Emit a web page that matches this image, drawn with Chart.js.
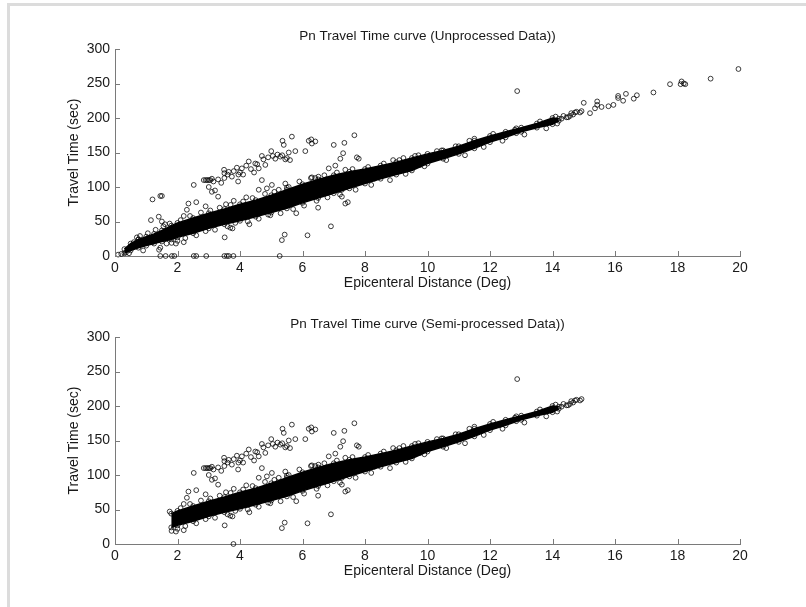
<!DOCTYPE html>
<html lang="en">
<head>
<meta charset="UTF-8">
<title>Pn Travel Time curve</title>
<script src="https://cdn.jsdelivr.net/npm/chart.js"></script>
<style>
    body { margin: 0; background: #fff; width: 806px; height: 607px; overflow: hidden; position: relative; }
    .moldura { position: absolute; left: 7px; top: 3px; width: 830px; height: 640px;
               border-top: 3px solid #dcdcdc; border-left: 3px solid #dcdcdc; }
    canvas { position: absolute; left: 0; }
    #canva1 { top: 0; }
    #canva2 { top: 288px; }
</style>
</head>
<body>
<div class="moldura"></div>
<canvas id="canva1" width="806" height="296"></canvas>
<canvas id="canva2" width="806" height="296"></canvas>

<script>
    // axis ticks
    var xTicks = [0, 2, 4, 6, 8, 10, 12, 14, 16, 18, 20];
    var yTicks = [0, 50, 100, 150, 200, 250, 300];

    // dense part of the Pn picks: upper / lower edge of the black band
    var bandX     = [0.3, 0.5, 0.75, 1.0, 1.25, 1.5, 1.8, 2.0, 2.5, 3.0, 3.5, 4.0, 4.5, 5.0, 5.5, 6.0, 6.5, 7.0, 7.5, 8.0, 8.5, 9.0, 9.5, 10.0, 10.5, 11.0, 11.5, 12.0, 12.5, 13.0, 13.5, 14.0, 14.2];
    var bandUpper = [10, 18, 24, 28, 32, 37, 44, 48, 55, 62, 68, 75, 81, 88, 96, 104, 111, 117, 122, 126, 131, 136, 142, 148, 153, 159, 167, 174, 180, 186, 192, 200, 199];
    var bandLower = [4, 8, 12, 15, 18, 21, 24, 27, 33, 40, 46, 51, 57, 63, 69, 77, 84, 91, 98, 105, 112, 118, 124, 134, 141, 148, 156, 165, 172, 180, 186, 191, 196];

    // scattered picks around the band
    var fringeX = [0.1, 0.2, 0.35, 0.45, 0.55, 0.6, 0.7, 0.75, 0.8, 0.9, 1.05, 1.2, 1.3, 1.41, 1.45, 1.55, 1.65, 1.75, 1.81, 2.0, 2.1, 2.25, 2.4, 2.6, 2.75, 2.9, 3.05, 3.2, 3.35, 3.6, 3.7, 3.85, 4.1, 4.25, 4.4, 4.6, 4.8, 4.9, 5.1, 5.3, 5.5, 5.7, 5.9, 6.05, 6.3, 6.45, 6.7, 6.8, 7.1, 7.2, 7.6, 7.7, 8.1, 8.2, 8.6, 8.8, 9.1, 9.3, 9.6, 9.9, 10.3, 10.6, 10.9, 11.2, 11.5, 11.8, 12.1, 12.4, 12.8, 13.1, 13.6, 13.8, 14.1, 14.15];
    var fringeY = [2, 3, 5, 4, 14, 20, 27, 24, 29, 8, 33, 20, 38, 9, 12, 43, 18, 47, 19, 22, 52, 26, 58, 30, 63, 36, 66, 38, 70, 43, 74, 48, 79, 50, 84, 54, 90, 60, 93, 62, 99, 68, 108, 73, 114, 80, 117, 85, 121, 89, 126, 96, 129, 103, 134, 110, 139, 119, 145, 130, 152, 139, 159, 146, 170, 158, 177, 167, 183, 176, 195, 185, 202, 192];

    // second (later) branch of picks above the band
    var branchX = [1.15, 1.2, 1.4, 1.45, 1.5, 1.5, 1.6, 2.2, 2.3, 2.35, 2.52, 2.6, 2.84, 2.9, 2.95, 3.0, 3.05, 3.1, 3.0, 3.15, 3.2, 3.1, 3.3, 3.3, 3.4, 3.49, 3.5, 3.5, 3.6, 3.64, 3.74, 3.8, 3.9, 3.95, 3.94, 4.0, 4.06, 4.1, 4.2, 4.28, 4.35, 4.45, 4.49, 4.55, 4.6, 4.7, 4.75, 4.81, 4.9, 5.0, 5.05, 5.13, 5.2, 5.29, 5.35, 5.36, 5.4, 5.45, 5.5, 5.56, 5.6, 5.66, 5.77, 6.09, 6.2, 6.28, 6.3, 6.41, 7.0, 7.21, 7.3, 7.34, 7.66, 7.74, 7.8];
    var branchY = [52, 82, 57, 87, 87, 50, 46, 58, 67, 76, 103, 78, 110, 110, 110, 110, 110, 112, 100, 108, 95, 93, 86, 111, 106, 125, 120, 113, 118, 122, 115, 123, 128, 118, 108, 121, 127, 118, 131, 137, 126, 121, 134, 133, 127, 145, 140, 132, 143, 152, 145, 141, 147, 144, 146, 167, 161, 140, 142, 150, 139, 173, 152, 152, 167, 169, 163, 166, 161, 141, 149, 164, 175, 143, 141];

    // isolated picks between / below the two groups
    var strayX = [2.9, 3.55, 3.8, 4.2, 4.6, 4.7, 4.86, 5.02, 5.24, 5.45, 5.56, 6.27, 6.41, 6.51, 6.84, 7.05, 7.37, 7.26, 7.26, 7.37, 7.45, 6.5, 5.8, 4.3, 4.38, 4.97, 3.42, 3.69, 3.76, 3.51, 5.34, 5.43, 6.16, 6.91, 2.2, 1.95, 8.3, 8.9, 9.23, 9.71, 9.76, 10.45, 11.34, 12.84, 12.84, 12.87];
    var strayY = [72, 75, 80, 85, 96, 110, 98, 103, 96, 105, 100, 113, 113, 115, 127, 131, 125, 96, 86, 76, 78, 70, 62, 46, 59, 59, 57, 41, 40, 27, 23, 31, 30, 43, 20, 18, 112, 139, 142, 146, 132, 153, 167, 185, 178, 239];

    // far-distance picks
    var farX = [14.29, 14.35, 14.45, 14.5, 14.56, 14.6, 14.66, 14.72, 14.77, 14.88, 14.93, 15.0, 15.2, 15.36, 15.43, 15.43, 15.57, 15.79, 15.95, 16.1, 16.1, 16.26, 16.35, 16.6, 16.7, 17.23, 17.76, 18.1, 18.13, 18.2, 18.25, 19.06, 19.95];
    var farY = [199, 203, 201, 201, 203, 207, 205, 208, 209, 208, 210, 222, 207, 214, 219, 224, 216, 217, 219, 229, 232, 225, 235, 228, 233, 237, 249, 249, 253, 250, 249, 257, 271];

    // picks with a zero travel time
    var zeroX = [1.45, 1.62, 1.82, 1.9, 2.52, 2.6, 2.92, 3.5, 3.58, 3.64, 3.79, 5.27];
    var zeroKeptX = [3.79];

    var fonte = "'Liberation Sans', Arial, Helvetica, sans-serif";
    var corEixo = '#7a7a7a';
    var corTexto = '#1a1a1a';

    function pares(xs, ys) {
        var out = [];
        for (var i = 0; i < xs.length; i++) out.push({ x: xs[i], y: ys[i] });
        return out;
    }

    var todos = []
        .concat(pares(fringeX, fringeY))
        .concat(pares(branchX, branchY))
        .concat(pares(strayX, strayY))
        .concat(pares(farX, farY));

    // small ticks pointing into the plot
    var tracosInternos = {
        id: 'tracosInternos',
        afterDraw: function (chart) {
            var ctx = chart.ctx, area = chart.chartArea, sx = chart.scales.x, sy = chart.scales.y;
            ctx.save();
            ctx.strokeStyle = corEixo;
            ctx.lineWidth = 1;
            ctx.beginPath();
            sx.ticks.forEach(function (t) {
                var px = Math.round(sx.getPixelForValue(t.value)) + 0.5;
                ctx.moveTo(px, area.bottom);
                ctx.lineTo(px, area.bottom - 5);
            });
            sy.ticks.forEach(function (t) {
                var py = Math.round(sy.getPixelForValue(t.value)) + 0.5;
                ctx.moveTo(area.left, py);
                ctx.lineTo(area.left + 5, py);
            });
            ctx.stroke();
            ctx.restore();
        }
    };

    var estiloPonto = {
        pointRadius: 2.4,
        pointBorderWidth: 0.9,
        pointBorderColor: 'rgba(0,0,0,0.85)',
        pointBackgroundColor: 'rgba(0,0,0,0)',
        pointHoverRadius: 2.4,
        clip: false
    };

    function plotarGrafico(id, titulo, sup, inf, pontos) {
        var ds = [
            Object.assign({ type: 'line', data: sup, fill: '+1', backgroundColor: '#000', borderColor: '#000', borderWidth: 1.5, tension: 0 }, estiloPonto),
            Object.assign({ type: 'line', data: inf, fill: false, borderColor: '#000', borderWidth: 1.5, tension: 0 }, estiloPonto),
            Object.assign({ data: pontos }, estiloPonto)
        ];
        return new Chart(document.getElementById(id), {
            type: 'scatter',
            data: { datasets: ds },
            options: {
                responsive: false,
                animation: false,
                layout: { padding: { left: 60, right: 66, top: 20, bottom: 0 } },
                plugins: {
                    legend: { display: false },
                    tooltip: { enabled: false },
                    title: {
                        display: true,
                        text: titulo,
                        fullSize: false,
                        color: corTexto,
                        font: { family: fonte, size: 13.5, weight: 'normal' },
                        padding: { top: 8, bottom: 4.8 }
                    }
                },
                scales: {
                    x: {
                        type: 'linear',
                        min: 0,
                        max: 20,
                        afterBuildTicks: function (s) { s.ticks = xTicks.map(function (v) { return { value: v }; }); },
                        afterFit: function (s) { s.height = 40; },
                        grid: { drawOnChartArea: false, drawTicks: false },
                        border: { display: true, color: corEixo, width: 1 },
                        ticks: { padding: 4, color: corTexto, autoSkip: false, maxRotation: 0, font: { family: fonte, size: 14 } },
                        title: { display: true, text: 'Epicenteral Distance (Deg)', color: corTexto, padding: { top: 0, bottom: 4 }, font: { family: fonte, size: 14 } }
                    },
                    y: {
                        type: 'linear',
                        min: 0,
                        max: 300,
                        afterBuildTicks: function (s) { s.ticks = yTicks.map(function (v) { return { value: v }; }); },
                        afterFit: function (s) { s.width = 55; },
                        grid: { drawOnChartArea: false, drawTicks: false },
                        border: { display: true, color: corEixo, width: 1 },
                        ticks: { padding: 5, color: corTexto, autoSkip: false, font: { family: fonte, size: 14 } },
                        title: { display: true, text: 'Travel Time (sec)', color: corTexto, padding: { top: 6, bottom: 0 }, font: { family: fonte, size: 14 } }
                    }
                }
            },
            plugins: [tracosInternos]
        });
    }

    // unprocessed: every pick
    var supBruto = pares(bandX, bandUpper);
    var infBruto = pares(bandX, bandLower);
    var bruto = todos.concat(zeroX.map(function (v) { return { x: v, y: 0 }; }));
    plotarGrafico('canva1', 'Pn Travel Time curve (Unprocessed Data))', supBruto, infBruto, bruto);

    // semi-processed: near-source, far and too-early picks dropped
    function dentro(p) { return p.x >= 1.75 && p.x <= 14.98; }
    var supSemi = supBruto.filter(dentro);
    var infSemi = infBruto.filter(dentro);
    var semi = todos.filter(function (p) { return dentro(p) && p.y >= 15; })
        .concat(zeroKeptX.map(function (v) { return { x: v, y: 0 }; }));
    plotarGrafico('canva2', 'Pn Travel Time curve (Semi-processed Data))', supSemi, infSemi, semi);
</script>
</body>
</html>
